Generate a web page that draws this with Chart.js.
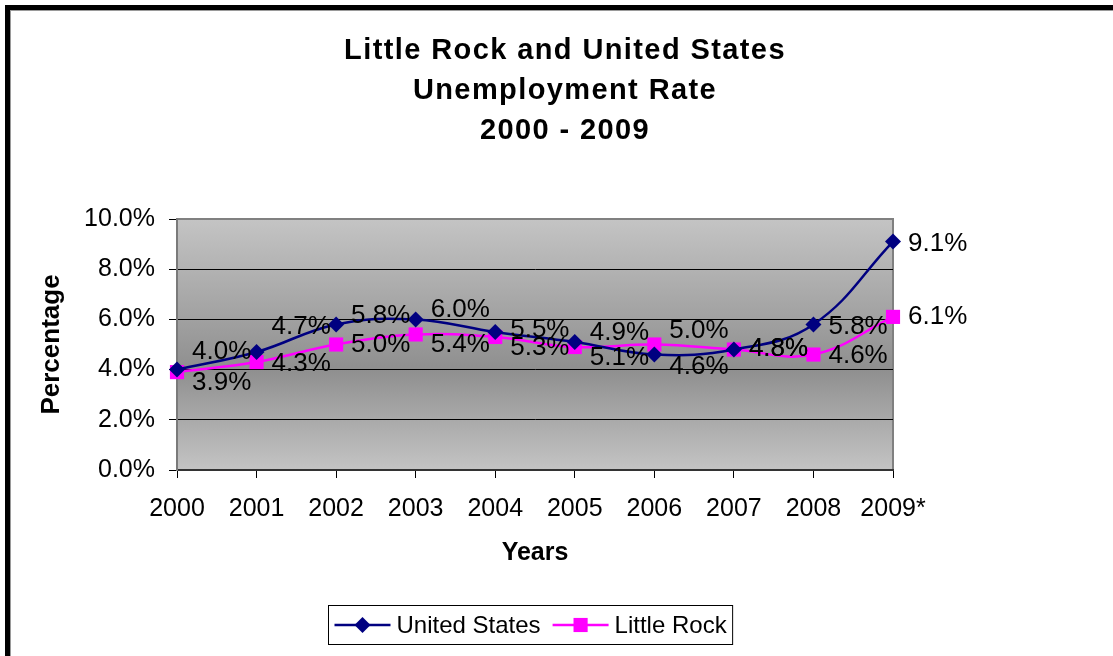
<!DOCTYPE html>
<html>
<head>
<meta charset="utf-8">
<script src="https://cdn.jsdelivr.net/npm/chart.js@4.4.0/dist/chart.umd.min.js"></script>
<style>
  html, body { margin: 0; padding: 0; background: #fff; overflow: hidden; }
  #frame { position: absolute; left: 5px; top: 5px; width: 1200px; height: 700px;
           border-left: 5px solid #000; border-top: 5px solid #000;
           box-shadow: inset 1px 1px 0 #9a9a9a; }
  #chart { position: absolute; left: 0; top: 0; }
</style>
</head>
<body>
<div id="frame"></div>
<canvas id="chart" width="1113" height="656"></canvas>
<script>
// --- datos ---
const titleLines = ['Little Rock and United States', 'Unemployment Rate', '2000 - 2009'];
const years = ['2000', '2001', '2002', '2003', '2004', '2005', '2006', '2007', '2008', '2009*'];
const usRate = [4.0, 4.7, 5.8, 6.0, 5.5, 5.1, 4.6, 4.8, 5.8, 9.1];
const lrRate = [3.9, 4.3, 5.0, 5.4, 5.3, 4.9, 5.0, 4.8, 4.6, 6.1];
const yTicks = [0, 2, 4, 6, 8, 10];

// label nudges (px, vertical) as placed in the original sheet
const usLabelDy = [-18, -25, -9, -10, -2, 16, 12, -1, 2, 2];
const lrLabelDy = [11, 2, 0, 10, 11, -14, -14, -1, 1, 0];

const FONT = "'Liberation Sans', Arial, sans-serif";

// gradient plot area + gray frame
const plotBg = {
  id: 'plotBg',
  beforeDraw(chart) {
    const { ctx, chartArea: a } = chart;
    const g = ctx.createLinearGradient(0, a.top, 0, a.bottom);
    g.addColorStop(0, '#c4c4c4');
    g.addColorStop(0.6, '#8f8f8f');
    g.addColorStop(1, '#c4c4c4');
    ctx.save();
    ctx.fillStyle = g;
    ctx.fillRect(a.left, a.top, a.right - a.left, a.bottom - a.top);
    ctx.strokeStyle = '#808080';
    ctx.lineWidth = 2;
    ctx.strokeRect(a.left, a.top, a.right - a.left, a.bottom - a.top);
    ctx.restore();
  }
};

// etiquetas de datos a la derecha de cada punto
const dataLabels = {
  id: 'dataLabels',
  afterDatasetsDraw(chart) {
    const ctx = chart.ctx;
    const nudges = [usLabelDy, lrLabelDy];
    ctx.save();
    ctx.font = `26px ${FONT}`;
    ctx.fillStyle = '#000';
    ctx.textAlign = 'left';
    ctx.textBaseline = 'middle';
    chart.data.datasets.forEach((ds, di) => {
      chart.getDatasetMeta(di).data.forEach((pt, i) => {
        ctx.fillText(ds.data[i].toFixed(1) + '%', pt.x + 15, pt.y + nudges[di][i]);
      });
    });
    ctx.restore();
  }
};

// title + boxed legend, Excel style
const titleAndLegend = {
  id: 'titleAndLegend',
  afterDraw(chart) {
    const ctx = chart.ctx;
    const a = chart.chartArea;
    ctx.save();
    ctx.fillStyle = '#000';
    ctx.font = `bold 29px ${FONT}`;
    ctx.letterSpacing = '1.4px';
    ctx.textAlign = 'center';
    ctx.textBaseline = 'middle';
    titleLines.forEach((t, i) => ctx.fillText(t, 565, 51 + i * 40));
    ctx.letterSpacing = '0px';

    // legend
    ctx.font = `24px ${FONT}`;
    const lineLen = 56, pad = 6, gap = 6, itemGap = 12;
    const items = chart.data.datasets.map(ds => ({ ds, w: ctx.measureText(ds.label).width }));
    let total = pad * 2 + itemGap * (items.length - 1);
    items.forEach(it => { total += lineLen + gap + it.w; });
    const boxL = Math.round((a.left + a.right) / 2 - 5 - total / 2) + 0.5;
    const boxT = 605.5, boxH = 39;
    const cy = boxT + boxH / 2;
    ctx.strokeStyle = '#000';
    ctx.lineWidth = 1;
    ctx.strokeRect(boxL, boxT, total, boxH);
    let x = boxL + pad;
    ctx.textAlign = 'left';
    items.forEach(({ ds, w }) => {
      ctx.strokeStyle = ds.borderColor;
      ctx.lineWidth = ds.borderWidth;
      ctx.beginPath();
      ctx.moveTo(x, cy);
      ctx.lineTo(x + lineLen, cy);
      ctx.stroke();
      ctx.fillStyle = ds.pointBackgroundColor;
      Chart.helpers.drawPoint(ctx, { pointStyle: ds.pointStyle, radius: ds.pointRadius, rotation: 0, borderWidth: 0 }, x + lineLen / 2, cy);
      ctx.fillStyle = '#000';
      ctx.fillText(ds.label, x + lineLen + gap, cy + 1);
      x += lineLen + gap + w + itemGap;
    });
    ctx.restore();
  }
};

new Chart(document.getElementById('chart'), {
  type: 'line',
  data: {
    labels: years,
    datasets: [
      {
        label: 'United States',
        data: usRate,
        borderColor: '#000080',
        backgroundColor: '#000080',
        borderWidth: 2.5,
        tension: 0.4,
        pointStyle: 'rectRot',
        pointRadius: 8,
        pointBackgroundColor: '#000080',
        pointBorderWidth: 0,
        clip: false
      },
      {
        label: 'Little Rock',
        data: lrRate,
        borderColor: '#FF00FF',
        backgroundColor: '#FF00FF',
        borderWidth: 2.5,
        tension: 0.4,
        pointStyle: 'rect',
        pointRadius: 10,
        pointBackgroundColor: '#FF00FF',
        pointBorderWidth: 0,
        clip: false
      }
    ]
  },
  options: {
    responsive: false,
    devicePixelRatio: 1,
    animation: false,
    layout: { padding: { top: 219, right: 220, left: 0, bottom: 0 } },
    plugins: {
      legend: { display: false },
      title: { display: false },
      tooltip: { enabled: false }
    },
    scales: {
      x: {
        offset: false,
        grid: { drawOnChartArea: false, color: '#000', tickColor: '#000', tickLength: 8 },
        border: { color: '#333', width: 2 },
        ticks: { color: '#000', font: { family: FONT, size: 25 }, padding: 16, maxRotation: 0 },
        title: { display: true, text: 'Years', color: '#000', font: { family: FONT, size: 25, weight: 'bold' }, padding: { top: 0, bottom: 88 } },
        afterFit: s => { s.height = 186; }
      },
      y: {
        min: 0,
        max: 10,
        afterBuildTicks: s => { s.ticks = yTicks.map(v => ({ value: v })); },
        grid: { color: c => c.tick && c.tick.value === 10 ? '#808080' : '#000', tickColor: '#000', tickLength: 8 },
        border: { color: '#7a7a7a', width: 2 },
        ticks: { color: '#000', font: { family: FONT, size: 25 }, padding: 14, callback: v => v.toFixed(1) + '%' },
        title: { display: true, text: 'Percentage', color: '#000', font: { family: FONT, size: 26, weight: 'bold' }, padding: { top: 36, bottom: 0 } },
        afterFit: s => { s.width = 177; }
      }
    }
  },
  plugins: [plotBg, dataLabels, titleAndLegend]
});
</script>
</body>
</html>
